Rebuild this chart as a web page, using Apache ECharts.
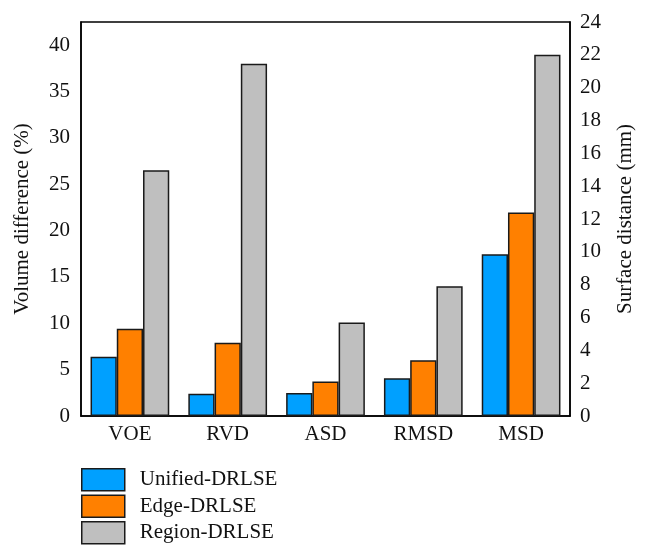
<!DOCTYPE html>
<html>
<head>
<meta charset="utf-8">
<script src="https://cdn.jsdelivr.net/npm/echarts@6/dist/echarts.min.js"></script>
<style>html,body{margin:0;padding:0;background:#fff;}#c{width:647px;height:556px;}</style>
</head>
<body>
<div id="c"></div>
<script>
const categories = ['VOE', 'RVD', 'ASD', 'RMSD', 'MSD'];
const seriesNames = ['Unified-DRLSE', 'Edge-DRLSE', 'Region-DRLSE'];
// Volume difference (%), left axis: VOE, RVD
const unifiedVolume = [6.4, 2.4, null, null, null];
const edgeVolume = [9.4, 7.9, null, null, null];
const regionVolume = [26.5, 38.0, null, null, null];
// Surface distance (mm), right axis: ASD, RMSD, MSD
const unifiedSurface = [null, null, 1.4, 2.3, 9.85];
const edgeSurface = [null, null, 2.1, 3.4, 12.4];
const regionSurface = [null, null, 5.7, 7.9, 22.0];
const leftTicks = [0, 5, 10, 15, 20, 25, 30, 35, 40];
const rightTicks = [0, 2, 4, 6, 8, 10, 12, 14, 16, 18, 20, 22, 24];

const colors = ['#00A0FF', '#FF8000', '#BFBFBF'];
const font = 'Liberation Serif';
const fs = 21;
const chart = echarts.init(document.getElementById('c'), null, {renderer: 'canvas'});

function bar(name, data, idx, axisIdx) {
  return {
    name: name, type: 'bar', data: data,
    xAxisIndex: axisIdx, yAxisIndex: axisIdx,
    barGap: 0, barCategoryGap: '19.5%',
    itemStyle: {color: colors[idx], borderColor: '#1a1a1a', borderWidth: 1.5},
    emphasis: {disabled: true}, animation: false
  };
}

const xBase = {
  type: 'category', data: categories,
  axisTick: {show: false},
  axisLine: {show: true, lineStyle: {color: '#000', width: 1.5}},
  axisLabel: {color: '#111', fontFamily: font, fontSize: fs, margin: 8}
};

chart.setOption({
  animation: false,
  grid: {left: 81, right: 77, top: 22, bottom: 140, show: true, borderColor: '#000', borderWidth: 1.5, backgroundColor: 'transparent'},
  legend: {
    orient: 'vertical', left: 81, top: 468, padding: 0,
    icon: 'rect',
    itemWidth: 43, itemHeight: 22, itemGap: 3,
    data: seriesNames,
    selectedMode: false,
    textStyle: {fontFamily: font, fontSize: fs, color: '#111', padding: [0, 0, 0, 10]},
    itemStyle: {borderColor: '#1a1a1a', borderWidth: 1.5}
  },
  xAxis: [Object.assign({}, xBase), Object.assign({}, xBase, {show: false})],
  yAxis: [
    {
      type: 'value', min: 0, max: 42.5, interval: 5,
      name: 'Volume difference (%)', nameLocation: 'middle', nameGap: 48,
      nameTextStyle: {fontFamily: font, fontSize: fs, color: '#111'},
      axisLine: {show: true, lineStyle: {color: '#000', width: 1.5}},
      axisTick: {show: false}, splitLine: {show: false},
      axisLabel: {color: '#111', fontFamily: font, fontSize: fs, margin: 11, showMaxLabel: false,
        formatter: v => leftTicks.includes(v) ? String(v) : ''}
    },
    {
      type: 'value', min: 0, max: 24, interval: 2, position: 'right',
      name: 'Surface distance (mm)', nameLocation: 'middle', nameGap: 45,
      nameTextStyle: {fontFamily: font, fontSize: fs, color: '#111'},
      axisLine: {show: true, lineStyle: {color: '#000', width: 1.5}},
      axisTick: {show: false}, splitLine: {show: false},
      axisLabel: {color: '#111', fontFamily: font, fontSize: fs, margin: 10,
        formatter: v => rightTicks.includes(v) ? String(v) : ''}
    }
  ],
  series: [
    bar(seriesNames[0], unifiedVolume, 0, 0),
    bar(seriesNames[1], edgeVolume, 1, 0),
    bar(seriesNames[2], regionVolume, 2, 0),
    bar(seriesNames[0], unifiedSurface, 0, 1),
    bar(seriesNames[1], edgeSurface, 1, 1),
    bar(seriesNames[2], regionSurface, 2, 1)
  ]
});
</script>
</body>
</html>
